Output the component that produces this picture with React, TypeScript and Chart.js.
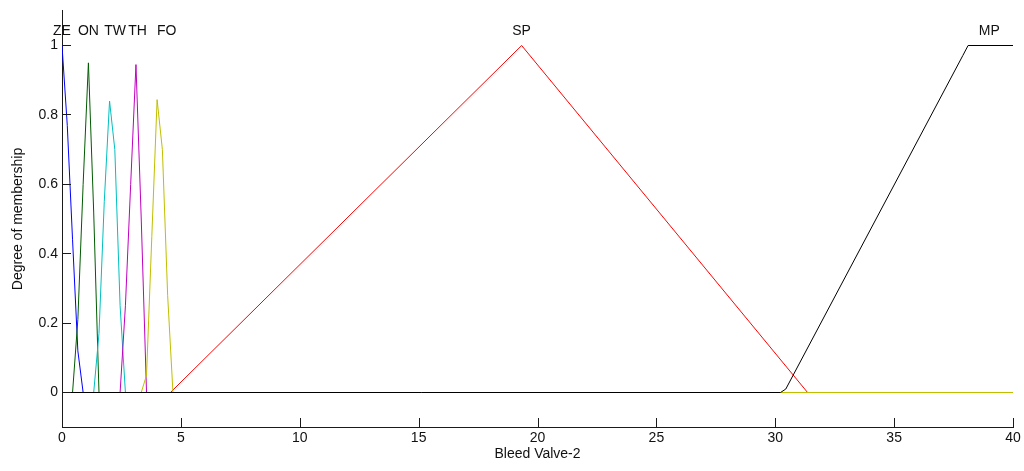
import React, { useEffect, useRef } from "react";
import { Chart, registerables } from "chart.js";

Chart.register(...registerables);

// Membership function names and colours
const mfNames = ["ZE", "ON", "TW", "TH", "FO", "SP", "MP"];
const mfColors = ["#0000ff", "#005a00", "#00bfbf", "#bf00bf", "#bfbf00", "#ff0000", "#000000"];

// Sampled membership curves (x = Bleed Valve-2, y = degree of membership)
const zeX = [0, 0.222, 0.444, 0.667, 0.889];
const zeY = [1, 0.77, 0.44, 0.12, 0];
const onX = [0.444, 0.667, 0.889, 1.111, 1.333, 1.556];
const onY = [0, 0.21, 0.6, 0.95, 0.52, 0];
const twX = [1.333, 1.556, 1.778, 2.0, 2.222, 2.444, 2.667];
const twY = [0, 0.17, 0.55, 0.84, 0.7, 0.25, 0];
const thX = [2.444, 2.667, 2.889, 3.111, 3.333, 3.556];
const thY = [0, 0.25, 0.6, 0.945, 0.5, 0];
const foX = [3.333, 3.556, 3.778, 4.0, 4.222, 4.444, 4.667, 40];
const foY = [0, 0.05, 0.45, 0.844, 0.7, 0.28, 0, 0];
const spX = [4.56, 19.333, 31.36];
const spY = [0, 1, 0];
const mpX = [0, 30.222, 30.444, 37.889, 38.111, 40];
const mpY = [0, 0, 0.01, 0.971, 1, 1];

// Label positions (data units)
const labelX = [0, 1.11, 2.23, 3.18, 4.4, 19.33, 39.0];
const labelY = 1.04;

// Axis ticks
const xTicks = [0, 5, 10, 15, 20, 25, 30, 35, 40];
const yTicks = [0, 0.2, 0.4, 0.6, 0.8, 1];
const xTitle = "Bleed Valve-2";
const yTitle = "Degree of membership";

const FONT = "'Liberation Sans', Arial, sans-serif";
const AXIS_COLOR = "#1a1a1a";

const seriesX = [zeX, onX, twX, thX, foX, spX, mpX];
const seriesY = [zeY, onY, twY, thY, foY, spY, mpY];
// drawing order: lower = on top
const seriesOrder = [6, 5, 4, 3, 1, 2, 0];

const innerTicks = {
  id: "innerTicks",
  afterDraw(chart: any) {
    const { ctx, chartArea, scales } = chart;
    const bottom = Math.round(chartArea.bottom);
    const left = Math.round(chartArea.left);
    ctx.save();
    ctx.strokeStyle = AXIS_COLOR;
    ctx.lineWidth = 1;
    ctx.beginPath();
    scales.x.ticks.forEach((t: any) => {
      const px = Math.round(scales.x.getPixelForValue(t.value)) + 0.5;
      ctx.moveTo(px, bottom);
      ctx.lineTo(px, bottom - 9);
    });
    scales.y.ticks.forEach((t: any) => {
      const py = Math.floor(scales.y.getPixelForValue(t.value)) + 0.5;
      ctx.moveTo(left, py);
      ctx.lineTo(left + 9, py);
    });
    ctx.stroke();
    ctx.restore();
  },
};

const mfLabels = {
  id: "mfLabels",
  afterDatasetsDraw(chart: any) {
    const { ctx, scales } = chart;
    ctx.save();
    ctx.font = `14px ${FONT}`;
    ctx.fillStyle = "#111";
    ctx.textAlign = "center";
    ctx.textBaseline = "middle";
    mfNames.forEach((name, i) => {
      ctx.fillText(name, scales.x.getPixelForValue(labelX[i]), scales.y.getPixelForValue(labelY));
    });
    ctx.restore();
  },
};

export default function App() {
  const ref = useRef<HTMLCanvasElement>(null);
  useEffect(() => {
    if (!ref.current) return;
    const datasets = mfNames.map((name, i) => ({
      label: name,
      data: seriesX[i].map((x, j) => ({ x, y: seriesY[i][j] })),
      borderColor: mfColors[i],
      backgroundColor: mfColors[i],
      borderWidth: 1,
      pointRadius: 0,
      tension: 0,
      fill: false,
      order: seriesOrder[i],
    }));
    const fitX = (s: any) => {
      s.height = 43.8;
      s.paddingLeft = 0;
      s.paddingRight = 0;
      s.paddingTop = 0;
      s.paddingBottom = 0;
    };
    const fitY = (s: any) => {
      s.width = 62;
      s.paddingLeft = 0;
      s.paddingRight = 0;
      s.paddingTop = 0;
      s.paddingBottom = 0;
    };
    const chart = new Chart(ref.current, {
      type: "line",
      data: { datasets },
      plugins: [innerTicks, mfLabels],
      options: {
        animation: false,
        responsive: false,
        maintainAspectRatio: false,
        layout: { padding: { left: 0, right: 11, top: 10.8, bottom: 0 } },
        plugins: { legend: { display: false }, tooltip: { enabled: false } },
        scales: {
          x: {
            type: "linear",
            min: 0,
            max: 40,
            grid: { display: false, drawTicks: false },
            border: { display: true, color: AXIS_COLOR, width: 1 },
            ticks: { color: "#111", font: { family: FONT, size: 14 }, padding: 3, maxRotation: 0, autoSkip: false },
            afterBuildTicks: (s: any) => {
              s.ticks = xTicks.map((v) => ({ value: v }));
            },
            afterFit: fitX,
            title: {
              display: true,
              text: xTitle,
              color: "#111",
              font: { family: FONT, size: 14 },
              padding: { top: 0, bottom: 8 },
            },
          },
          y: {
            type: "linear",
            min: -0.1,
            max: 1.1,
            grid: { display: false, drawTicks: false },
            border: { display: true, color: AXIS_COLOR, width: 1 },
            ticks: {
              color: "#111",
              font: { family: FONT, size: 14 },
              padding: 4,
              autoSkip: false,
              callback: (v: any) => String(v),
            },
            afterBuildTicks: (s: any) => {
              s.ticks = yTicks.map((v) => ({ value: v }));
            },
            afterFit: fitY,
            title: {
              display: true,
              text: yTitle,
              color: "#111",
              font: { family: FONT, size: 14 },
              padding: { top: 10, bottom: 0 },
            },
          },
        },
      },
    });
    return () => chart.destroy();
  }, []);
  return (
    <div style={{ position: "fixed", left: 0, top: 0, width: 1024, height: 471, background: "#fff" }}>
      <canvas ref={ref} width={1024} height={471} style={{ width: 1024, height: 471, display: "block" }} />
    </div>
  );
}
